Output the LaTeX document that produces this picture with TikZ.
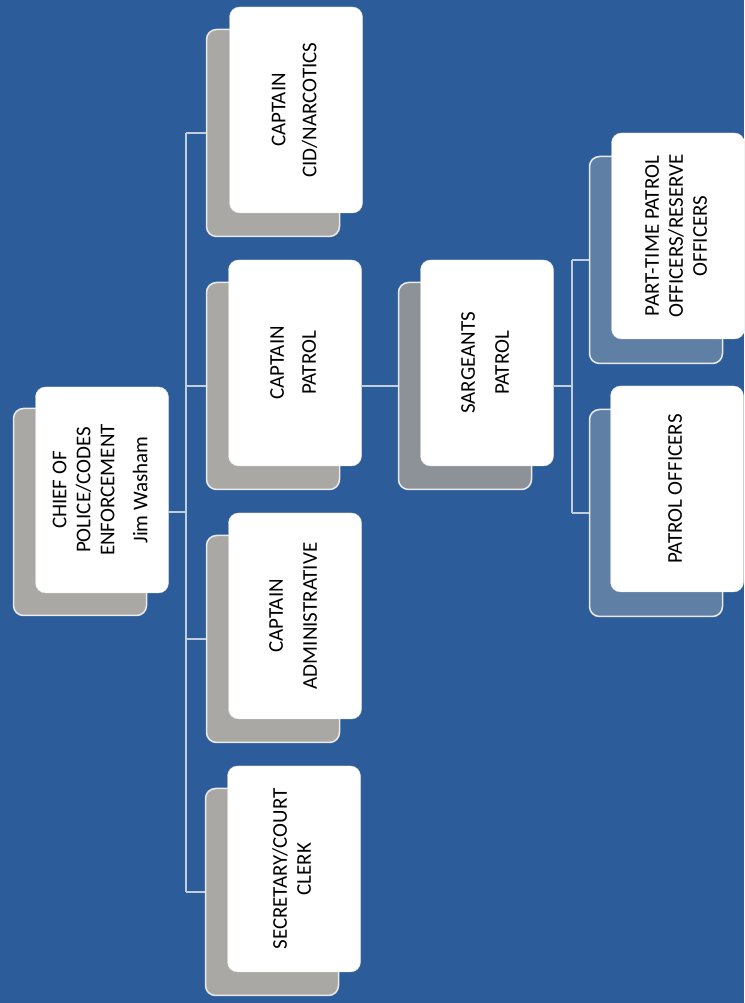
\documentclass[tikz,border=0pt]{standalone}
\usepackage{fontspec}
\usepackage{graphicx}
\setmainfont{Carlito}
\usetikzlibrary{positioning}

\definecolor{bgblue}{HTML}{2C5C9A}
\definecolor{linkgray}{HTML}{C3CEDB}
\definecolor{cardgray}{HTML}{A9A8A4}
\definecolor{cardmid}{HTML}{8D9298}
\definecolor{cardblue}{HTML}{5F7FA5}

\newcommand{\cardtext}[1]{\rotatebox{90}{\begin{tabular}{@{}c@{}}#1\end{tabular}}}

\begin{document}
\begin{tikzpicture}[x=1pt,y=1pt,
  frontcard/.style={fill=white, draw=black!12, rounded corners=10pt, minimum width=133pt, minimum height=206pt, inner sep=0pt, text=black, font=\fontsize{21}{24}\selectfont},
  backcard/.style={fill=#1, draw=white!92!black, line width=1.5pt, rounded corners=10pt, minimum width=133pt, minimum height=207pt},
  backcard/.default=cardgray,
  link/.style={draw=linkgray, line width=1.3pt}]
\fill[bgblue] (0,0) rectangle (744,1003);
\useasboundingbox (0,0) rectangle (744,1003);

% back cards
\node[backcard] (chiefB) at (80,491) {};
\node[backcard] (cidB) at (273,870) {};
\node[backcard] (patB) at (273,617) {};
\node[backcard] (admB) at (273,364) {};
\node[backcard] (secB) at (272,111) {};
\node[backcard=cardmid] (sgtB) at (465,617) {};
\node[backcard=cardblue] (ptB) at (656,743) {};
\node[backcard=cardblue] (poB) at (656,490) {};

% front cards
\node[frontcard] (chief) at (102,513) {\cardtext{CHIEF OF\\POLICE/CODES\\ENFORCEMENT\\[9pt]Jim Washam}};
\node[frontcard] (cid) at (296,893) {\cardtext{CAPTAIN\\[7pt]CID/NARCOTICS}};
\node[frontcard] (pat) at (295,640) {\cardtext{CAPTAIN\\[8pt]PATROL}};
\node[frontcard] (adm) at (295,387) {\cardtext{CAPTAIN\\[10pt]ADMINISTRATIVE}};
\node[frontcard] (sec) at (294,134) {\cardtext{SECRETARY/COURT\\CLERK}};
\node[frontcard] (sgt) at (487,640) {\cardtext{SARGEANTS\\[10pt]PATROL}};
\node[frontcard] (pt) at (678,767) {\cardtext{PART-TIME PATROL\\OFFICERS/RESERVE\\OFFICERS}};
\node[frontcard] (po) at (677,514) {\cardtext{PATROL OFFICERS}};

\coordinate (spineA) at (186,500);
\coordinate (spineB) at (572,500);

\draw[link] (chief.east |- chiefB) -- (chiefB -| spineA);
\draw[link] (cidB.west -| spineA) -- (secB.west -| spineA);
\draw[link] (cidB.west) -- (cidB.west -| spineA);
\draw[link] (patB.west) -- (patB.west -| spineA);
\draw[link] (admB.west) -- (admB.west -| spineA);
\draw[link] (secB.west) -- (secB.west -| spineA);

\draw[link] (pat.east |- patB) -- (sgtB.west);

\draw[link] (sgt.east |- sgtB) -- (sgtB -| spineB);
\draw[link] (ptB.west -| spineB) -- (poB.west -| spineB);
\draw[link] (ptB.west) -- (ptB.west -| spineB);
\draw[link] (poB.west) -- (poB.west -| spineB);
\end{tikzpicture}
\end{document}
